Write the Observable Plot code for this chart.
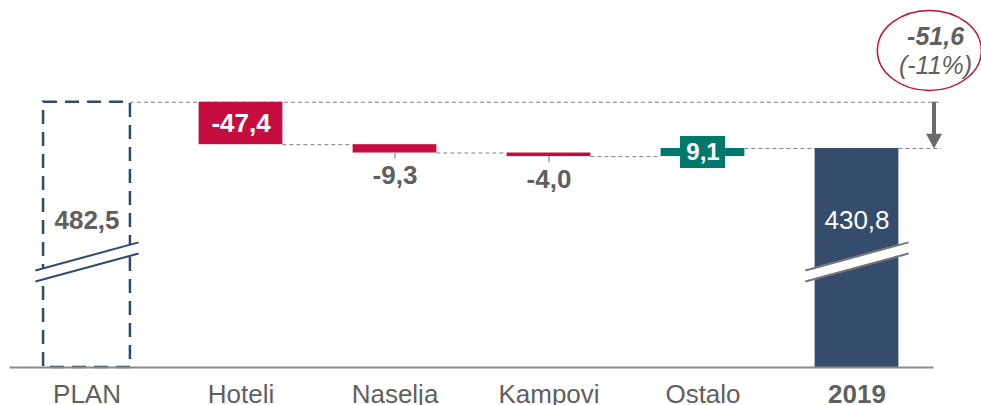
<!DOCTYPE html>
<html><head><meta charset="utf-8">
<script src="https://cdn.jsdelivr.net/npm/d3@7"></script>
<script src="https://cdn.jsdelivr.net/npm/@observablehq/plot@0.6"></script>
<style>body{margin:0;background:#fff;} #chart svg{display:block;}</style>
</head><body><div id="chart"></div>
<script>
// ---- data ----
const categories = ["PLAN", "Hoteli", "Naselja", "Kampovi", "Ostalo", "2019"];
const planValue = 482.5;
const changeValues = [-47.4, -9.3, -4.0, 9.1];
const actualValue = 430.8;
const totalChange = -51.6;
const totalChangePct = -11;

// hidden base of the broken value axis, and top of the plotting area
const axisFloor = 186.3;
const axisTop = 596.1;
const labelLevel = 350;            // value level of labels inside the broken bars
const breakLevels = [282.3, 313.6]; // lower break line, left and right end
const breakGap = 12.4;

// ---- colours ----
const RED = "#c50e3f", GREEN = "#00786b", NAVY = "#354c6c", PLAN_NAVY = "#2f4a6b";
const GREY_TXT = "#5f5f5f", DASH = "#808080";

const fmt = v => v.toFixed(1).replace(".", ",");

// waterfall steps
let run = planValue;
const steps = changeValues.map((v, k) => {
  const s = {i: k + 1, start: run, end: run + v, value: v};
  run += v;
  return s;
});

const hw = 0.272, planHw = 0.282, bw = 0.335;

const connectors = [
  {x1: planHw, x2: 5.55, y: planValue},
  ...steps.slice(0, 3).map(s => ({x1: s.i + hw, x2: s.i + 1 - hw, y: s.end})),
  {x1: 4 + hw, x2: 5.55, y: steps[3].end}
];

const breaks = [
  {i: 0, color: PLAN_NAVY},
  {i: 5, color: "#767676"}
];
const breakLines = breaks.flatMap(b => [0, breakGap].map(g => ({
  ...b, xa: b.i - bw, xb: b.i + bw, ya: breakLevels[0] + g, yb: breakLevels[1] + g
})));
const breakArea = breaks.flatMap(b => [
  {i: b.i, x: b.i - bw, lo: breakLevels[0], hi: breakLevels[0] + breakGap},
  {i: b.i, x: b.i + bw, lo: breakLevels[1], hi: breakLevels[1] + breakGap}
]);

const ellipseSymbol = {
  draw(ctx, size) {
    const r = Math.sqrt(size / Math.PI);
    const rx = r * 1.3, ry = r, k = 0.5523;
    ctx.moveTo(rx, 0);
    ctx.bezierCurveTo(rx, k * ry, k * rx, ry, 0, ry);
    ctx.bezierCurveTo(-k * rx, ry, -rx, k * ry, -rx, 0);
    ctx.bezierCurveTo(-rx, -k * ry, -k * rx, -ry, 0, -ry);
    ctx.bezierCurveTo(k * rx, -ry, rx, -k * ry, rx, 0);
    ctx.closePath();
  }
};
const headSymbol = {
  draw(ctx, size) {
    const r = Math.sqrt(size / Math.PI);
    ctx.moveTo(-r, -1.85 * r);
    ctx.lineTo(r, -1.85 * r);
    ctx.lineTo(0, 0);
    ctx.closePath();
  }
};

const FONT = "Liberation Sans, Arial, sans-serif";
const neg = steps.filter(s => s.value < 0);
const pos = steps.filter(s => s.value >= 0);
const bigNeg = neg.filter(s => s.start - s.end > 20);
const smallNeg = neg.filter(s => s.start - s.end <= 20);
const FS = 26;

const chart = Plot.plot({
  width: 981,
  height: 405,
  marginTop: 0,
  marginBottom: 38,
  marginLeft: 9.5,
  marginRight: 47.5,
  x: {domain: [-0.5, 5.5], axis: null},
  y: {domain: [axisFloor, axisTop], axis: null},
  style: {fontFamily: FONT, background: "#fff", overflow: "visible"},
  marks: [
    // dashed connectors
    Plot.ruleY(connectors, {x1: "x1", x2: "x2", y: "y", stroke: DASH, strokeWidth: 1, strokeDasharray: "4,3"}),
    // PLAN dashed outline
    Plot.rect([planValue], {x1: -planHw, x2: planHw, y1: axisFloor, y2: d => d, fill: "none", stroke: PLAN_NAVY, strokeWidth: 2.5, strokeDasharray: "14,8"}),
    // change bars
    Plot.rect(steps, {x1: d => d.i - hw, x2: d => d.i + hw, y1: "start", y2: "end", fill: d => d.value < 0 ? RED : GREEN}),
    // 2019 bar
    Plot.rect([actualValue], {x1: 5 - hw, x2: 5 + hw, y1: axisFloor, y2: d => d, fill: NAVY}),
    // axis break
    Plot.area(breakArea, {x1: "x", y1: "lo", y2: "hi", z: "i", fill: "#fff"}),
    Plot.link(breakLines, {x1: "xa", x2: "xb", y1: "ya", y2: "yb", stroke: "color", strokeWidth: 2}),
    // baseline
    Plot.ruleY([axisFloor], {stroke: "#8a8a8a", strokeWidth: 2}),
    // small ticks under thin negative bars
    Plot.ruleX(smallNeg, {x: "i", y1: "end", y2: d => d.end - 6.7, stroke: "#707070", strokeWidth: 1}),
    // value labels
    Plot.text([planValue], {x: 0, y: labelLevel, text: d => fmt(d), fill: GREY_TXT, fontSize: FS, fontWeight: "bold"}),
    Plot.text([actualValue], {x: 5, y: labelLevel, text: d => fmt(d), fill: "#fff", fontSize: FS}),
    Plot.text(bigNeg, {x: "i", y: d => (d.start + d.end) / 2, text: d => fmt(d.value), fill: "#fff", fontSize: FS, fontWeight: "bold"}),
    Plot.text(smallNeg, {x: "i", y: "end", dy: 23, text: d => fmt(d.value), fill: GREY_TXT, fontSize: FS, fontWeight: "bold"}),
    Plot.rect(pos, {x1: d => d.i - 0.146, x2: d => d.i + 0.146, y1: d => (d.start + d.end) / 2, y2: d => (d.start + d.end) / 2, insetTop: -16, insetBottom: -16, fill: GREEN}),
    Plot.text(pos, {x: "i", y: d => (d.start + d.end) / 2, text: d => fmt(d.value), fill: "#fff", fontSize: 24, fontWeight: "bold"}),
    // category labels
    Plot.text(categories.slice(0, 5), {x: (d, i) => i, y: axisFloor, dy: 17, lineAnchor: "top", text: d => d, fill: GREY_TXT, fontSize: FS}),
    Plot.text(categories.slice(5), {x: 5, y: axisFloor, dy: 17, lineAnchor: "top", text: d => d, fill: GREY_TXT, fontSize: FS, fontWeight: "bold"}),
    // total change arrow
    Plot.ruleX([5.5], {y1: planValue, y2: actualValue + 14, stroke: "#6a6a6a", strokeWidth: 4}),
    Plot.dot([actualValue], {x: 5.5, y: d => d, r: 8, symbol: headSymbol, fill: "#6a6a6a", stroke: "none"}),
    // annotation ellipse
    Plot.dot([totalChange], {x: 5.47, y: 540.3, r: 40, symbol: ellipseSymbol, fill: "none", stroke: RED, strokeWidth: 1.5}),
    Plot.text([totalChange], {x: 5.51, y: 555.5, text: d => fmt(d), fill: GREY_TXT, fontSize: 25, fontWeight: "bold", fontStyle: "italic"}),
    Plot.text([totalChangePct], {x: 5.51, y: 523.5, text: d => `(${d}%)`, fill: GREY_TXT, fontSize: 25, fontStyle: "italic"})
  ]
});
document.getElementById("chart").appendChild(chart);
</script>
</body></html>
